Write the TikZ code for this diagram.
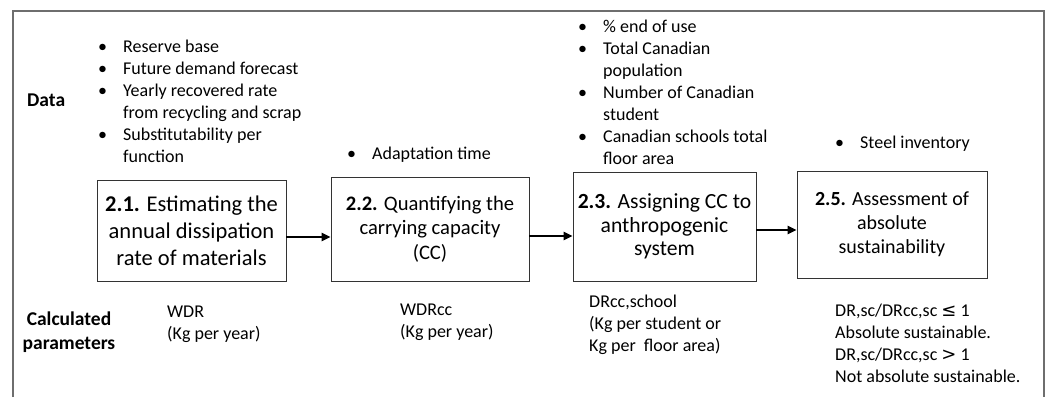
\documentclass[tikz,border=0pt]{standalone}
\usepackage{fontspec}
\setmainfont{Carlito}
\newfontfamily\relfont{DejaVu Sans}
\usetikzlibrary{arrows.meta}
\definecolor{framegray}{HTML}{6E6E6E}
\definecolor{boxline}{HTML}{333333}
\newcommand{\txtrows}[2][l]{\begin{tabular}[t]{@{}#1@{}}#2\end{tabular}}
\newcommand{\bul}{\makebox[25pt][l]{\textbullet}}
\newcommand{\nobul}{\makebox[25pt][l]{}}

\begin{document}
\begin{tikzpicture}[x=1pt,y=-1pt,line cap=butt,
    stage/.style={draw=boxline,line width=0.9pt,inner sep=0pt,align=center,
                  font=\fontsize{20}{24}\selectfont},
    flow/.style={-{Triangle[length=9pt,width=8pt]},line width=2.4pt},
    plain/.style={anchor=base west,inner sep=0pt,font=\fontsize{18}{22}\selectfont},
    rowlabel/.style={plain,font=\fontsize{19.5}{24}\selectfont\bfseries}]
  \useasboundingbox (0,0) rectangle (1051,397);
  % outer frame, open at the bottom
  \draw[framegray,line width=1.4pt] (13,397) -- (13,11) -- (1044,11) -- (1044,397);

  % row labels
  \node[rowlabel] (data) at (27,106) {Data};
  \node[rowlabel,anchor=base] (calc) at (69,325) {\txtrows[c]{Calculated\\parameters}};

  % input data
  \node[plain] (in1) at (98,52) {\txtrows{\bul Reserve base\\
      \bul Future demand forecast\\
      \bul Yearly recovered rate\\
      \nobul from recycling and scrap\\
      \bul Substitutability per\\
      \nobul function}};
  \node[plain] (in2) at (347,159) {\txtrows{\bul Adaptation time}};
  \node[plain] (in3) at (578,32) {\txtrows{\bul \% end of use\\
      \bul Total Canadian\\
      \nobul population\\
      \bul Number of Canadian\\
      \nobul student\\
      \bul Canadian schools total\\
      \nobul floor area}};
  \node[plain] (in4) at (835,148) {\txtrows{\bul Steel inventory}};

  % steps
  \node[stage,minimum width=189pt,minimum height=101pt,font=\fontsize{22.5}{27}\selectfont]
    (s1) at (191.5,230.5) {\textbf{2.1.} Estimating the\\annual dissipation\\rate of materials};
  \node[stage,minimum width=198pt,minimum height=104pt,font=\fontsize{20.6}{24.5}\selectfont]
    (s2) at (430,229) {\textbf{2.2.} Quantifying the\\carrying capacity\\(CC)};
  \node[stage,minimum width=183pt,minimum height=109pt,font=\fontsize{21.6}{23.5}\selectfont]
    (s3) at (664.5,226.5) {\textbf{2.3.} Assigning CC to\\anthropogenic\\system};
  \node[stage,minimum width=190pt,minimum height=107pt]
    (s4) at (892,224.5) {\textbf{2.5.} Assessment of\\absolute\\sustainability};

  \draw[flow] ([yshift=-6.5pt]s1.east) -- ([yshift=-8pt]s2.west);
  \draw[flow] ([yshift=-7pt]s2.east) -- ([yshift=-9.5pt]s3.west);
  \draw[flow] ([yshift=-3.5pt]s3.east) -- ([yshift=-5.5pt]s4.west);

  % calculated parameters
  \node[plain] (out1) at (167,317) {\txtrows{WDR\\(Kg per year)}};
  \node[plain] (out2) at (400,315) {\txtrows{WDRcc\\(Kg per year)}};
  \node[plain] (out3) at (589,307) {\txtrows{DRcc,school\\(Kg per student or\\Kg per\ \ floor area)}};
  \node[plain] (out4) at (835,316) {\txtrows{DR,sc/DRcc,sc {\relfont ≤} 1\\
      Absolute sustainable.\\
      DR,sc/DRcc,sc {\relfont >} 1\\
      Not absolute sustainable.}};
\end{tikzpicture}
\end{document}
